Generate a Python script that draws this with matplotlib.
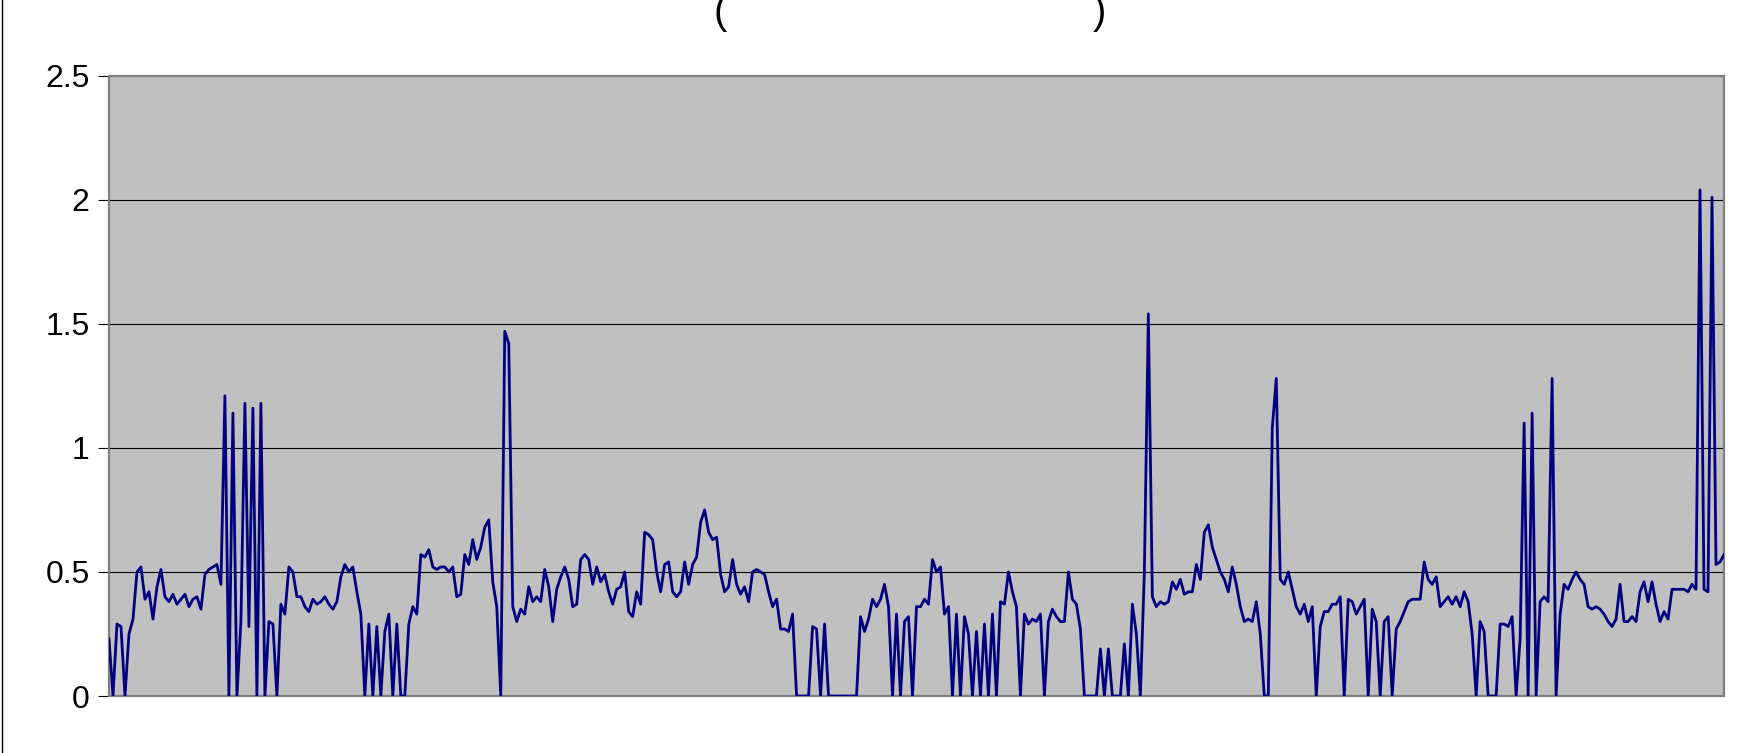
import numpy as np
import matplotlib
matplotlib.use("Agg")
import matplotlib.pyplot as plt
from matplotlib.lines import Line2D

plt.rcParams['font.family'] = ['Liberation Sans', 'DejaVu Sans']

# values, one sample every ~4 px
values = [
    0.23, 0, 0.29, 0.28, 0, 0.25, 0.31, 0.50, 0.52, 0.39,
    0.42, 0.31, 0.44, 0.51, 0.40, 0.38, 0.41, 0.37, 0.39, 0.41,
    0.36, 0.39, 0.40, 0.35, 0.49, 0.51, 0.52, 0.53, 0.45, 1.21,
    0, 1.14, 0, 0.30, 1.18, 0.28, 1.16, 0, 1.18, 0,
    0.30, 0.29, 0, 0.37, 0.33, 0.52, 0.50, 0.40, 0.40, 0.36,
    0.34, 0.39, 0.37, 0.38, 0.40, 0.37, 0.35, 0.38, 0.48, 0.53,
    0.50, 0.52, 0.42, 0.33, 0, 0.29, 0, 0.28, 0, 0.26,
    0.33, 0, 0.29, 0, 0, 0.29, 0.36, 0.33, 0.57, 0.56,
    0.59, 0.52, 0.51, 0.52, 0.52, 0.50, 0.52, 0.40, 0.41, 0.57,
    0.53, 0.63, 0.55, 0.60, 0.68, 0.71, 0.46, 0.36, 0, 1.47,
    1.42, 0.36, 0.30, 0.35, 0.33, 0.44, 0.38, 0.40, 0.38, 0.51,
    0.44, 0.30, 0.43, 0.48, 0.52, 0.47, 0.36, 0.37, 0.55, 0.57,
    0.55, 0.45, 0.52, 0.46, 0.49, 0.42, 0.37, 0.43, 0.44, 0.50,
    0.34, 0.32, 0.42, 0.37, 0.66, 0.65, 0.63, 0.50, 0.42, 0.53,
    0.54, 0.42, 0.40, 0.42, 0.54, 0.45, 0.53, 0.56, 0.70, 0.75,
    0.66, 0.63, 0.64, 0.49, 0.42, 0.44, 0.55, 0.45, 0.41, 0.44,
    0.38, 0.50, 0.51, 0.50, 0.49, 0.42, 0.36, 0.39, 0.27, 0.27,
    0.26, 0.33, 0, 0, 0, 0, 0.28, 0.27, 0, 0.29,
    0, 0, 0, 0, 0, 0, 0, 0, 0.32, 0.26,
    0.31, 0.39, 0.36, 0.39, 0.45, 0.36, 0, 0.33, 0, 0.30,
    0.32, 0, 0.36, 0.36, 0.39, 0.37, 0.55, 0.50, 0.52, 0.33,
    0.36, 0, 0.33, 0, 0.32, 0.25, 0, 0.26, 0, 0.29,
    0, 0.33, 0, 0.38, 0.37, 0.50, 0.42, 0.36, 0, 0.33,
    0.29, 0.31, 0.30, 0.33, 0, 0.30, 0.35, 0.32, 0.30, 0.30,
    0.50, 0.39, 0.37, 0.27, 0, 0, 0, 0, 0.19, 0,
    0.19, 0, 0, 0, 0.21, 0, 0.37, 0.25, 0, 0.50,
    1.54, 0.40, 0.36, 0.38, 0.37, 0.38, 0.46, 0.43, 0.47, 0.41,
    0.42, 0.42, 0.53, 0.47, 0.66, 0.69, 0.60, 0.55, 0.50, 0.47,
    0.42, 0.52, 0.45, 0.36, 0.30, 0.31, 0.30, 0.38, 0.25, 0,
    0, 1.08, 1.28, 0.47, 0.45, 0.50, 0.43, 0.36, 0.33, 0.37,
    0.30, 0.36, 0, 0.28, 0.34, 0.34, 0.37, 0.37, 0.40, 0,
    0.39, 0.38, 0.33, 0.36, 0.39, 0, 0.35, 0.30, 0, 0.30,
    0.32, 0, 0.27, 0.30, 0.34, 0.38, 0.39, 0.39, 0.39, 0.54,
    0.47, 0.45, 0.48, 0.36, 0.38, 0.40, 0.37, 0.40, 0.36, 0.42,
    0.38, 0.25, 0, 0.30, 0.26, 0, 0, 0, 0.29, 0.29,
    0.28, 0.32, 0, 0.23, 1.10, 0, 1.14, 0, 0.38, 0.40,
    0.38, 1.28, 0, 0.33, 0.45, 0.43, 0.47, 0.50, 0.47, 0.45,
    0.36, 0.35, 0.36, 0.35, 0.33, 0.30, 0.28, 0.31, 0.45, 0.30,
    0.30, 0.32, 0.30, 0.42, 0.46, 0.38, 0.46, 0.37, 0.30, 0.34,
    0.31, 0.43, 0.43, 0.43, 0.43, 0.42, 0.45, 0.43, 2.04, 0.43,
    0.42, 2.01, 0.53, 0.54, 0.57,
]
y_ticks = [0, 0.5, 1, 1.5, 2, 2.5]
y_labels = ["0", "0.5", "1", "1.5", "2", "2.5"]

W, H = 1746, 753
fig = plt.figure(figsize=(W / 100, H / 100), dpi=100)
ax = fig.add_axes([109 / W, 57 / H, (1724 - 109) / W, (696 - 75.7) / H])
ax.set_facecolor('#C0C0C0')

x = np.arange(len(values))
ax.plot(x, values, color='#000080', lw=2.0, zorder=3)

ax.set_xlim(0, len(values) - 1)
ax.set_ylim(0, 2.5)
ax.set_yticks(y_ticks)
ax.set_yticklabels(y_labels)
ax.set_xticks([])
ax.tick_params(axis='y', direction='out', length=8, width=0.8, color='black',
               pad=6, labelsize=23)
ax.yaxis.grid(True, color='black', lw=0.8)
ax.set_axisbelow(True)
for s in ax.spines.values():
    s.set_color('#808080')
    s.set_linewidth(1.6)

# title, mostly cut off by the top of the image
fig.text(713 / W, 1 - 32 / H, "(", fontsize=29, ha='left', va='bottom')
fig.text(1106 / W, 1 - 32 / H, ")", fontsize=29, ha='right', va='bottom')

# left border line of the chart frame
fig.add_artist(Line2D([2 / W, 2 / W], [0, 1], color='black', lw=1.0,
                      transform=fig.transFigure))

fig.savefig("out.png", dpi=100)
